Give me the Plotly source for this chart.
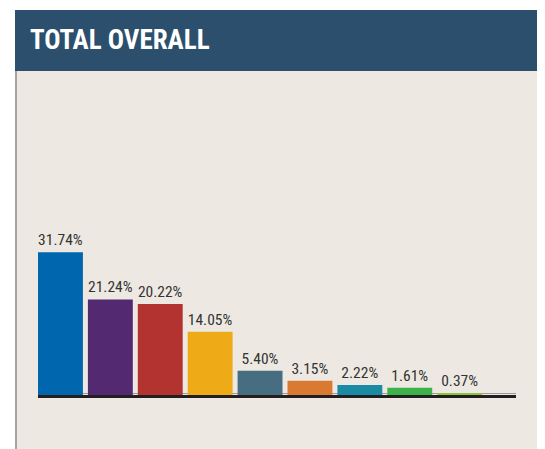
import plotly.graph_objects as go

categories = ["1", "2", "3", "4", "5", "6", "7", "8", "9"]
values = [31.74, 21.24, 20.22, 14.05, 5.40, 3.15, 2.22, 1.61, 0.37]
labels = ["31.74%", "21.24%", "20.22%", "14.05%", "5.40%", "3.15%", "2.22%", "1.61%", "0.37%"]
colors = ["#0066ad", "#532a72", "#b33330", "#efab17", "#466e80",
          "#d97a32", "#1a8aa5", "#3bb34a", "#8cc63f"]
title = "TOTAL OVERALL"

OFF = 8  # page body margin
W, H = 545 - OFF, 449 - OFF
# reference-pixel coordinates converted to figure coordinates
L = 38 - OFF
R = W - (516 - OFF)
B = H - (395 - OFF)
T = 80 - OFF
PW, PH = W - L - R, H - T - B

def px(x):
    return ((x - OFF) - L) / PW

def py(y):
    return (H - B - (y - OFF)) / PH

cond = "Roboto Condensed, Liberation Sans Narrow, Arial Narrow, DejaVu Sans Condensed, sans-serif"

fig = go.Figure(go.Bar(
    x=list(range(len(categories))),
    y=values,
    text=labels,
    textposition="outside",
    textfont=dict(family=cond, size=15.5, color="#333333"),
    marker=dict(color=colors, line=dict(width=0)),
    width=0.9,
    cliponaxis=False,
    hoverinfo="skip",
))

shapes = [
    dict(type="rect", xref="paper", yref="paper", x0=px(15), x1=px(539), y0=py(460), y1=py(71),
         fillcolor="#ede9e2", line=dict(width=0), layer="below"),
    dict(type="line", xref="paper", yref="paper", x0=px(16), x1=px(16), y0=py(460), y1=py(71),
         line=dict(color="#8c8c8c", width=1.5), layer="below"),
    dict(type="line", xref="paper", yref="paper", x0=px(538.5), x1=px(538.5), y0=py(460), y1=py(71),
         line=dict(color="#555555", width=1.5), layer="below"),
    dict(type="rect", xref="paper", yref="paper", x0=px(15), x1=px(540), y0=py(71), y1=py(10),
         fillcolor="#2c4f6e", line=dict(width=0), layer="below"),
    dict(type="line", xref="paper", yref="paper", x0=0, x1=1, y0=py(393.5), y1=py(393.5),
         line=dict(color="#9a9a9a", width=1), layer="below"),
]

fig.update_layout(
    width=W, height=H,
    margin=dict(l=L, r=R, t=T, b=B, pad=0),
    paper_bgcolor="#ffffff",
    plot_bgcolor="rgba(0,0,0,0)",
    showlegend=False,
    shapes=shapes,
    title=dict(text="<b>" + title + "</b>", x=(30 - OFF) / W, xref="container", xanchor="left",
               y=1 - (40 - OFF) / H, yref="container", yanchor="middle",
               font=dict(family=cond, size=27, color="#ffffff")),
    xaxis=dict(range=[-0.45, -0.45 + PW / 49.9], showticklabels=False, showgrid=False,
               zeroline=False, showline=True, linecolor="#231f20", linewidth=2.5, ticks=""),
    yaxis=dict(range=[0, PH / 4.5], showticklabels=False, showgrid=False, zeroline=False,
               showline=False, ticks=""),
)

fig.write_html("out.html")
